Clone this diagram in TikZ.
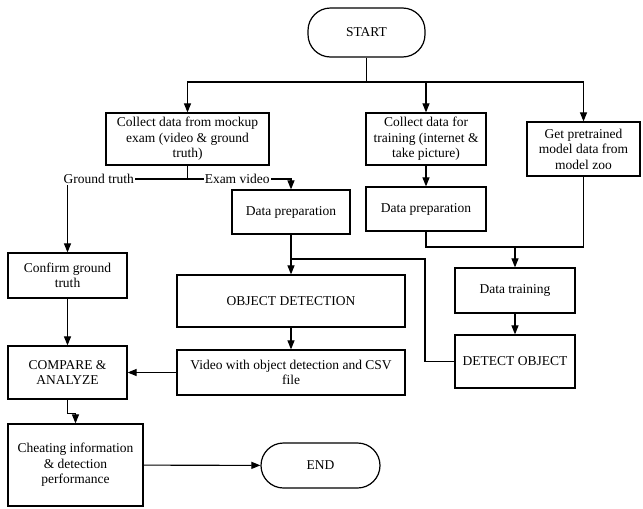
\documentclass[tikz,border=0pt]{standalone}
\usepackage{fontspec}
\setmainfont{Liberation Serif}
\usetikzlibrary{arrows.meta}

\tikzset{
  box/.style={draw, line width=1.2pt, align=center, inner sep=2pt,
    font=\fontsize{13.5}{15.5}\selectfont},
  term/.style={box, rounded corners=22.5pt},
  lbl/.style={fill=white, inner sep=1pt, font=\fontsize{13.5}{15.5}\selectfont},
  arr/.style={-{Triangle[length=9pt,width=7pt]}}
}

\begin{document}
\begin{tikzpicture}[x=1pt, y=-1pt, line width=1.1pt]
  \useasboundingbox (0,0) rectangle (643,509);

  \node[term, minimum width=117pt, minimum height=49pt] (start) at (366.5,32.5) {START};
  \node[box, minimum width=163pt, minimum height=52pt] (collect) at (187.5,139)
    {Collect data from mockup\\ exam (video \& ground\\ truth)};
  \node[box, minimum width=120pt, minimum height=52pt] (train) at (426,139)
    {Collect data for\\ training (internet \&\\ take picture)};
  \node[box, minimum width=113pt, minimum height=54pt] (pretrained) at (583.5,149)
    {Get pretrained\\ model data from\\ model zoo};
  \node[box, minimum width=118pt, minimum height=44pt] (prep1) at (291,212) {Data preparation};
  \node[box, minimum width=120pt, minimum height=44pt] (prep2) at (426,209) {Data preparation};
  \node[box, minimum width=119pt, minimum height=45pt] (confirm) at (67.5,275.5)
    {Confirm ground\\ truth};
  \node[box, minimum width=228pt, minimum height=52pt] (objdet) at (291,301) {OBJECT DETECTION};
  \node[box, minimum width=120pt, minimum height=45pt] (training) at (515,290.5) {Data training};
  \node[box, minimum width=120pt, minimum height=53pt] (detect) at (515,361.5) {DETECT OBJECT};
  \node[box, minimum width=228pt, minimum height=45pt] (video) at (291,372.5)
    {Video with object detection and CSV\\ file};
  \node[box, minimum width=119pt, minimum height=53pt] (compare) at (67.5,372.5)
    {COMPARE \&\\ ANALYZE};
  \node[box, minimum width=135pt, minimum height=82pt] (cheat) at (75.5,465)
    {Cheating information\\ \& detection\\ performance};
  \node[term, minimum width=119pt, minimum height=45pt] (endnode) at (320.5,465.5) {END};

  \coordinate (split) at (366.5,82);
  \coordinate (gsplit) at (187.5,179);
  \coordinate (tmerge) at (515,247);
  \coordinate (omerge) at (291,259);
  \coordinate (dturn) at (425,259);

  \draw (start) -- (split);
  \draw[arr] (split) -| (collect);
  \draw[arr] (split) -| (train);
  \draw[arr] (split) -| (pretrained);

  \draw (collect) -- (gsplit);
  \draw[arr] (gsplit) -| node[lbl, pos=0.37] {Ground truth} (confirm);
  \draw[arr] (gsplit) -| node[lbl, pos=0.24] {Exam video} (prep1);

  \draw[arr] (train) -- (prep2);
  \draw (prep2) |- (tmerge);
  \draw (pretrained) |- (tmerge);
  \draw[arr] (tmerge) -- (training);
  \draw[arr] (training) -- (detect);

  \draw[arr] (prep1) -- (objdet);
  \draw (detect.west) -| (dturn) -- (omerge);
  \draw[arr] (objdet) -- (video);
  \draw[arr] (video) -- (compare);
  \draw[arr] (confirm) -- (compare);
  \draw[arr] (compare.south) -- ++(0,14) -| (cheat.north);
  \draw[arr] (cheat) -- (endnode);
\end{tikzpicture}
\end{document}
